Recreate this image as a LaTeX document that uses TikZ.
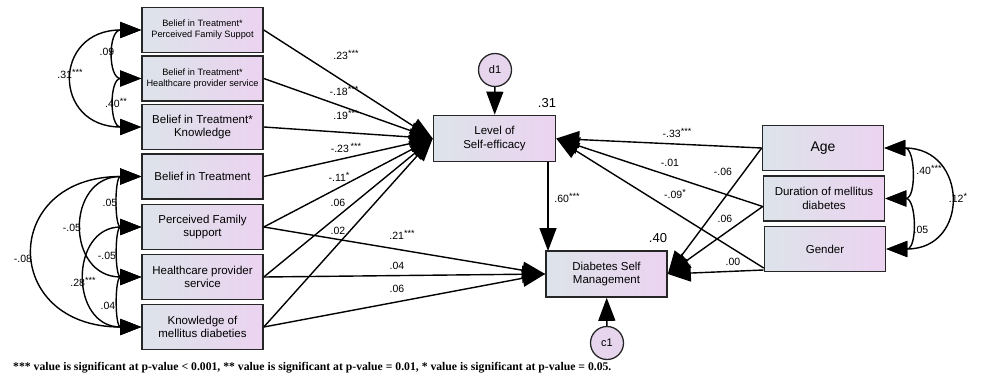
\documentclass[tikz,border=0pt]{standalone}
\usepackage{fontspec}
\setmainfont{Liberation Sans}
\newfontfamily\notefont{Liberation Serif}
\usepackage{tikz}
\usetikzlibrary{arrows.meta,positioning,calc}
\definecolor{boxleft}{HTML}{DDE3EA}
\definecolor{boxright}{HTML}{EBD3F0}
\definecolor{errfill}{HTML}{E6D5EC}
\newcommand{\sig}[1]{\raisebox{3pt}{\fontsize{9}{9}\selectfont #1}}

\begin{document}
\begin{tikzpicture}[x = 1pt, y = 1pt,
  var/.style = {draw = black!85, line width = 1.6pt, left color = boxleft, right color = boxright,
    minimum width = 121pt, minimum height = 45pt, align = center, inner sep = 1pt,
    font = \fontsize{11.5}{13.5}\selectfont},
  small/.style = {font = \fontsize{9.2}{11}\selectfont},
  err/.style = {circle, draw = black!85, line width = 1.3pt, fill = errfill, minimum size = 33pt,
    inner sep = 0pt, font = \fontsize{11}{13}\selectfont},
  eff/.style = {-{Triangle[length = 23pt, width = 17pt]}, line width = 1.4pt},
  cov/.style = {{Triangle[length = 21pt, width = 16pt]}-{Triangle[length = 21pt, width = 16pt]}, line width = 1.4pt},
  est/.style = {font = \fontsize{10.5}{12}\selectfont, inner sep = 0pt},
  rsq/.style = {font = \fontsize{13}{15}\selectfont, inner sep = 0pt}]
\useasboundingbox (0,0) rectangle (981,-385);

% observed predictors
\node[var, small] (bpfs) at (202.5,-30) {Belief in Treatment*\\Perceived Family Suppot};
\node[var, small] (bhps) at (202.5,-78.5) {Belief in Treatment*\\Healthcare provider service};
\node[var] (bkn) at (202.5,-127) {Belief in Treatment*\\Knowledge};
\node[var] (bel) at (202.5,-176.5) {Belief in Treatment};
\node[var] (pfs) at (202.5,-227) {Perceived Family\\support};
\node[var] (hps) at (202.5,-277) {Healthcare provider\\service};
\node[var] (kmd) at (202.5,-327) {Knowledge of\\mellitus diabeties};

% outcomes
\node[var, minimum width = 122pt, minimum height = 46pt] (eff) at (494.5,-138.5) {Level of\\Self-efficacy};
\node[var, minimum height = 46pt] (dsm) at (606.5,-274) {Diabetes Self\\Management};
\node[err] (d1) at (495,-70) {d1};
\node[err] (c1) at (607,-343) {c1};
\node[rsq] (r2eff) at (547,-103) {.31};
\node[rsq] (r2dsm) at (658,-238) {.40};
\coordinate (effdsm) at (548,-251);

% covariates
\node[var, font = \fontsize{14}{16}\selectfont] (age) at (823,-148) {Age};
\node[var] (dur) at (824,-198.5) {Duration of mellitus\\diabetes};
\node[var] (gen) at (825,-249) {Gender};

% paths to self-efficacy
\draw[eff] (bpfs.east) -- (eff.west);
\draw[eff] (bhps.east) -- (eff.west);
\draw[eff] (bkn.east) -- (eff.west);
\draw[eff] (bel.east) -- (eff.west);
\draw[eff] (pfs.east) -- (eff.west);
\draw[eff] (hps.east) -- (eff.west);
\draw[eff] (kmd.east) -- (eff.west);
\draw[eff] (age.west) -- (eff.east);
\draw[eff] ([yshift = -8pt]dur.west) -- (eff.east);
\draw[eff] ([yshift = -19pt]gen.west) -- (eff.east);
\draw[eff] (d1) -- (eff);

% paths to self management
\draw[eff] (pfs.east) -- (dsm.west);
\draw[eff] (hps.east) -- (dsm.west);
\draw[eff] (kmd.east) -- (dsm.west);
\draw[eff] (age.west) -- (dsm.east);
\draw[eff] ([yshift = -8pt]dur.west) -- (dsm.east);
\draw[eff] ([yshift = -21pt]gen.west) -- (dsm.east);
\draw[eff] (eff.south -| effdsm) -- (effdsm);
\draw[eff] (c1) -- (dsm);

% covariances
\draw[cov] (bpfs.west) to[out = 180, in = 180, looseness = 1.76] (bhps.west);
\draw[cov] (bhps.west) to[out = 180, in = 180, looseness = 1.69] (bkn.west);
\draw[cov] (bpfs.west) to[out = 180, in = 180, looseness = 2.35] (bkn.west);
\draw[cov] (bel.west) to[out = 180, in = 180, looseness = 1.36] (pfs.west);
\draw[cov] (pfs.west) to[out = 180, in = 180, looseness = 1.36] (hps.west);
\draw[cov] (hps.west) to[out = 180, in = 180, looseness = 1.36] (kmd.west);
\draw[cov] (bel.west) to[out = 180, in = 180, looseness = 1.93] (hps.west);
\draw[cov] (pfs.west) to[out = 180, in = 180, looseness = 1.84] (kmd.west);
\draw[cov] (bel.west) to[out = 180, in = 180, looseness = 2.4] (kmd.west);
\draw[cov] (age.east) to[out = 0, in = 0, looseness = 1.58] (dur.east);
\draw[cov] (dur.east) to[out = 0, in = 0, looseness = 1.58] (gen.east);
\draw[cov] (age.east) to[out = 0, in = 0, looseness = 2.12] (gen.east);

% estimates
\node[est] (c09) at (107,-52) {.09};
\node[est] (c31) at (70,-74) {.31\sig{***}};
\node[est] (c40) at (116,-103) {.40\sig{**}};
\node[est] (c05a) at (110,-203) {.05};
\node[est] (c05b) at (72,-228) {-.05};
\node[est] (c08) at (23,-259) {-.08};
\node[est] (c05c) at (107,-256) {-.05};
\node[est] (c28) at (83,-282) {.28\sig{***}};
\node[est] (c04) at (108,-306) {.04};
\node[est] (p23) at (346,-55) {.23\sig{***}};
\node[est] (p18) at (344,-91) {-.18\sig{***}};
\node[est] (p19) at (346,-115) {.19\sig{***}};
\node[est] (p23b) at (346,-148) {-.23\,\sig{***}};
\node[est] (p11) at (339,-177) {-.11\sig{*}};
\node[est] (p06) at (338,-203) {.06};
\node[est] (p02) at (338,-231) {.02};
\node[est] (p21) at (402,-235) {.21\sig{***}};
\node[est] (p04) at (397,-266) {.04};
\node[est] (p06b) at (397,-289) {.06};
\node[est] (p60) at (567,-198) {.60\sig{***}};
\node[est] (p33) at (677,-133) {-.33\sig{***}};
\node[est] (p01) at (670,-163) {-.01};
\node[est] (p06c) at (723,-172) {-.06};
\node[est] (p09) at (675,-194) {-.09\sig{*}};
\node[est] (p06d) at (725,-219) {.06};
\node[est] (p00) at (733,-262) {.00};
\node[est] (c40b) at (929,-170) {.40\sig{***}};
\node[est] (c05d) at (921,-230) {.05};
\node[est] (c12) at (958,-198) {.12\sig{*}};

\node[anchor = west, inner sep = 0pt, font = \notefont\bfseries\fontsize{11.7}{13}\selectfont] (note) at (13,-368)
  {*** value is significant at p-value < 0.001, ** value is significant at p-value = 0.01, * value is significant at p-value = 0.05.};
\end{tikzpicture}
\end{document}
